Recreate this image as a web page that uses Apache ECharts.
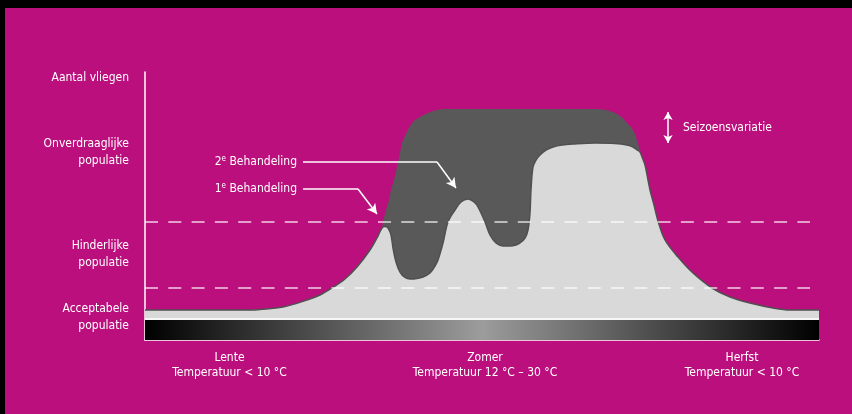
<!DOCTYPE html>
<html><head><meta charset="utf-8">
<script src="https://cdn.jsdelivr.net/npm/echarts@6/dist/echarts.min.js"></script>
<style>html,body{margin:0;padding:0;background:#000}#c{width:852px;height:414px}</style>
</head><body><div id="c"></div>
<script>
const FONT = "'Liberation Sans Narrow','DejaVu Sans Condensed','Roboto',sans-serif";
const FS = 12;
const MAGENTA = '#bb0f7d';

// season progress (x) vs number of flies (y)
const riseLeft = [[0,30],[105,30],[115,30.5],[138,33],[162,40],[175,45],[187,52],[200,61],[212,73],[225,90],[232,102],[237,112]];
const lowerMiddle = [[240,113.5],[243,112],[246,105],[248,92],[251,78],[255,68],[260,62.5],[265,61],[272,61.5],[278,63],[285,67],[290,74],[293,80],[298,97],[303,118],[310,130],[316,138],[323,141],[329,138],[333,133],[340,118],[345,105],[351,97],[358,94],[365,94],[371,95],[375,97],[380,102],[383,110],[385,127],[386,150],[388,173],[391,180],[395,185],[401,190],[408,193],[417,195],[428,196],[450,197],[470,196.5],[482,195],[488,193],[492,190],[495,188]];
const upperMiddle = [[238,118],[241,130],[244,140],[246,150],[249,160],[252,173],[255,187],[257,197],[260,204],[263,210],[268,218],[275,223],[283,227],[292,230],[302,231],[452,231],[465,229],[475,224],[482,217],[488,210],[492,200],[495,189]];
const fallRight = [[497,183],[500,175],[503,160],[505,150],[509,135],[513,119],[520,100],[533,83],[548,67],[567,52],[585,43],[605,37],[628,32],[645,30],[674,30]];

const thresholds = [118, 52];
const thresholdEnd = 665;
const yTickValues = [23, 86, 188, 262];
const yTickLabels = ['Acceptabele\npopulatie', 'Hinderlijke\npopulatie', 'Onverdraaglijke\npopulatie', 'Aantal vliegen'];
const seasonPos = [84.5, 340, 597];
const seasonLabels = ['Lente\nTemperatuur < 10 °C', 'Zomer\nTemperatuur 12 °C – 30 °C', 'Herfst\nTemperatuur < 10 °C'];

// treatments: [label number, text start, elbow, arrow tip]
const treatment2 = {n:'2', start:[158,178], elbow:[292,178], tip:[311,152]};
const treatment1 = {n:'1', start:[158,151], elbow:[213,151], tip:[232,126]};
const seasonVar = {x:523, from:228, to:197, label:'Seizoensvariatie'};

const lower = riseLeft.concat(lowerMiddle, fallRight);
const upper = riseLeft.concat(upperMiddle, fallRight);

const white = '#ffffff';
function treatLines(t){
  return [
    [{coord:t.start, symbol:'none', label:{show:true, position:'start', distance:6, formatter: t.n + '{s|e} Behandeling', color:white, fontFamily:FONT, fontSize:FS, lineHeight:14, rich:{s:{fontSize:8, lineHeight:9, verticalAlign:'top', color:white, fontFamily:FONT}}}},
     {coord:t.elbow, symbol:'none'}],
    [{coord:t.elbow, symbol:'none'}, {coord:t.tip, symbol:'arrow', symbolSize:[8,10]}]
  ];
}

const chart = echarts.init(document.getElementById('c'), null, {renderer:'canvas'});
chart.setOption({
  backgroundColor: MAGENTA,
  animation: false,
  textStyle: {fontFamily: FONT},
  grid: {left:145, right:33, top:72, bottom:74},
  xAxis: {
    type:'value', min:0, max:674,
    axisLine:{show:true, lineStyle:{color:white, width:1.5}},
    axisTick:{show:false}, splitLine:{show:false},
    axisLabel:{customValues: seasonPos, color:white, fontSize:FS, lineHeight:15, margin:10, fontFamily:FONT,
      formatter: v => seasonLabels[seasonPos.indexOf(v)] || ''}
  },
  yAxis: {
    type:'value', min:0, max:268,
    axisLine:{show:true, lineStyle:{color:white, width:1.5}},
    axisTick:{show:false}, splitLine:{show:false},
    axisLabel:{customValues: yTickValues, color:white, fontSize:FS, lineHeight:17, margin:16, align:'right', fontFamily:FONT,
      formatter: v => yTickLabels[yTickValues.indexOf(v)] || ''}
  },
  graphic: [
    {type:'rect', shape:{x:0,y:0,width:852,height:8}, style:{fill:'#000'}, z:100},
    {type:'rect', shape:{x:0,y:0,width:5,height:414}, style:{fill:'#000'}, z:100}
  ],
  series: [
    {type:'line', name:'max', data: upper, smooth:0.35, showSymbol:false, silent:true, z:1,
      lineStyle:{width:0, color:'#595959'}, areaStyle:{color:'#595959', opacity:1}},
    {type:'line', name:'min', data: lower, smooth:0.35, showSymbol:false, silent:true, z:2,
      lineStyle:{width:1.5, color:'#505050'}, areaStyle:{color:'#d9d9d9', opacity:1}},
    {type:'line', name:'marks', data: [], silent:true, z:10,
      markArea:{silent:true, z:10, itemStyle:{color: new echarts.graphic.LinearGradient(0,0,1,0,[{offset:0,color:'#000'},{offset:0.5,color:'#9c9c9c'},{offset:1,color:'#000'}])},
        data:[[{coord:[0,0]},{coord:[674,20]}]]},
      markLine:{silent:true, z:11, symbol:'none', label:{show:false}, animation:false,
        lineStyle:{color:white, width:1.5, type:'solid'},
        data: [
          [{coord:[0,21.5]},{coord:[674,21.5]}],
          ...thresholds.map(t => [{coord:[0,t], lineStyle:{type:[13,10.3], color:'rgba(255,255,255,0.8)', width:1.5}},{coord:[thresholdEnd,t]}]),
          ...treatLines(treatment2),
          ...treatLines(treatment1),
          [{coord:[seasonVar.x, seasonVar.from], symbol:'arrow', symbolSize:[7,8]},{coord:[seasonVar.x, seasonVar.to], symbol:'arrow', symbolSize:[7,8]}]
        ]},
      markPoint:{silent:true, symbol:'circle', symbolSize:0, z:12,
        label:{show:true, position:'right', distance:15, color:white, fontSize:FS, fontFamily:FONT, formatter: seasonVar.label},
        data:[{coord:[seasonVar.x, (seasonVar.from+seasonVar.to)/2]}]}
    }
  ]
});
</script></body></html>
